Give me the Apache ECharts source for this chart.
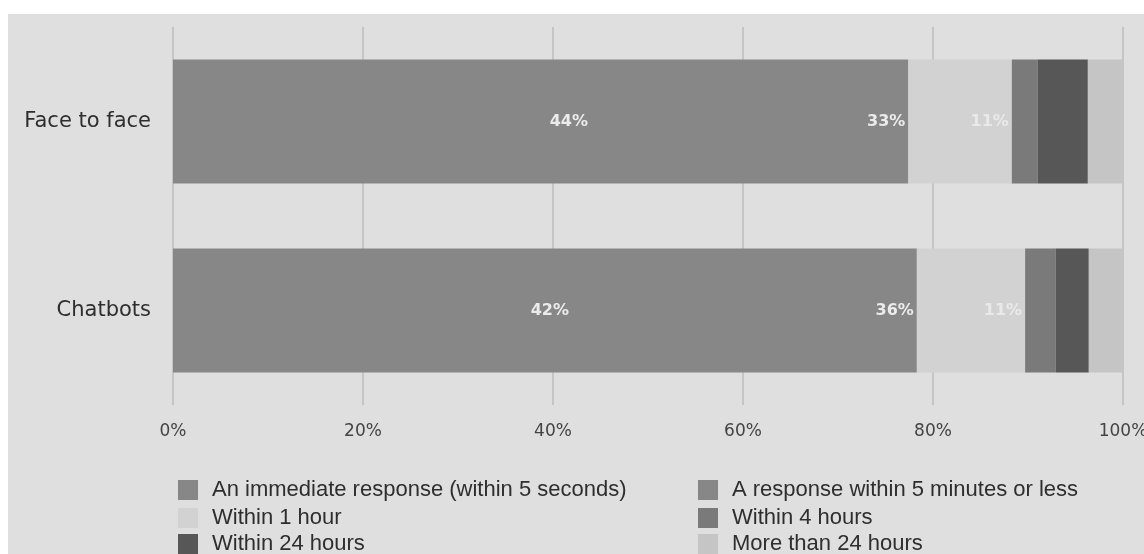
<!DOCTYPE html>
<html>
<head>
<meta charset="utf-8">
<script src="https://cdn.jsdelivr.net/npm/echarts@6/dist/echarts.min.js"></script>
<style>
html,body{margin:0;padding:0;background:#ffffff;width:1144px;height:554px;overflow:hidden;}
#chart{position:absolute;left:8px;top:14px;width:1136px;height:540px;}
</style>
</head>
<body>
<div id="chart"></div>
<script>
// Data (percent of respondents)
var categories = ['Chatbots', 'Face to face'];
var seriesNames = [
  'An immediate response (within 5 seconds)',
  'A response within 5 minutes or less',
  'Within 1 hour',
  'Within 4 hours',
  'Within 24 hours',
  'More than 24 hours'
];
// values ordered as [Chatbots, Face to face]
var immediate   = [42.0, 44.0];
var fiveMinutes = [36.3, 33.4];
var oneHour     = [11.4, 10.9];
var fourHours   = [3.2, 2.7];
var dayHours    = [3.5, 5.3];
var moreThanDay = [3.6, 3.7];
var xTicks = [0, 20, 40, 60, 80, 100];

var values = [immediate, fiveMinutes, oneHour, fourHours, dayHours, moreThanDay];
var colors = ['#878787', '#878787', '#d2d2d2', '#7a7a7a', '#575757', '#c5c5c5'];
var showLabel = [true, true, true, false, false, false];
var labelColors = ['rgba(240,240,240,0.95)', 'rgba(240,240,240,0.95)', 'rgba(246,246,246,0.65)'];

var series = values.map(function (v, i) {
  return {
    name: seriesNames[i],
    type: 'bar',
    stack: 'total',
    barWidth: 124,
    data: v,
    itemStyle: { color: colors[i] },
    label: {
      show: showLabel[i],
      position: 'insideRight',
      distance: 3,
      color: labelColors[i] || '#fff',
      fontFamily: '"DejaVu Sans", sans-serif',
      fontWeight: 'bold',
      fontSize: 16,
      formatter: function (p) { return Math.round(p.value) + '%'; }
    },
    emphasis: { disabled: true }
  };
});

var legendText = { color: '#2e2e2e', fontSize: 22, fontFamily: '"Liberation Sans", Arial, sans-serif', padding: [0, 0, 0, 9] };
// legend layout: column x (chart coords) and row y
var legendPos = [
  [170, 465], [690, 465],
  [170, 493], [690, 493],
  [170, 519], [690, 519]
];
var legends = seriesNames.map(function (n, i) {
  return {
    orient: 'vertical',
    left: legendPos[i][0],
    top: legendPos[i][1],
    padding: 0,
    itemWidth: 20,
    itemHeight: 20,
    icon: 'rect',
    selectedMode: false,
    data: [n],
    textStyle: legendText
  };
});

var chart = echarts.init(document.getElementById('chart'), null, { renderer: 'canvas' });
chart.setOption({
  backgroundColor: '#dfdfdf',
  animation: false,
  color: colors,
  grid: { left: 165, right: 21, top: 13, bottom: 149, outerBoundsMode: 'none', containLabel: false },
  xAxis: {
    type: 'value',
    min: 0,
    max: 100,
    interval: 20,
    axisLine: { show: false },
    axisTick: { show: false },
    splitLine: { show: true, lineStyle: { color: '#bcbcbc', width: 1.5 } },
    axisLabel: {
      margin: 18,
      color: '#444444',
      fontSize: 17,
      fontFamily: '"DejaVu Sans", sans-serif',
      formatter: function (v) { return xTicks.indexOf(v) >= 0 ? v + '%' : ''; }
    }
  },
  yAxis: {
    type: 'category',
    data: categories,
    axisLine: { show: false },
    axisTick: { show: false },
    axisLabel: {
      margin: 22,
      color: '#2e2e2e',
      fontSize: 21,
      fontFamily: '"DejaVu Sans", sans-serif'
    }
  },
  legend: legends,
  series: series
});
</script>
</body>
</html>
